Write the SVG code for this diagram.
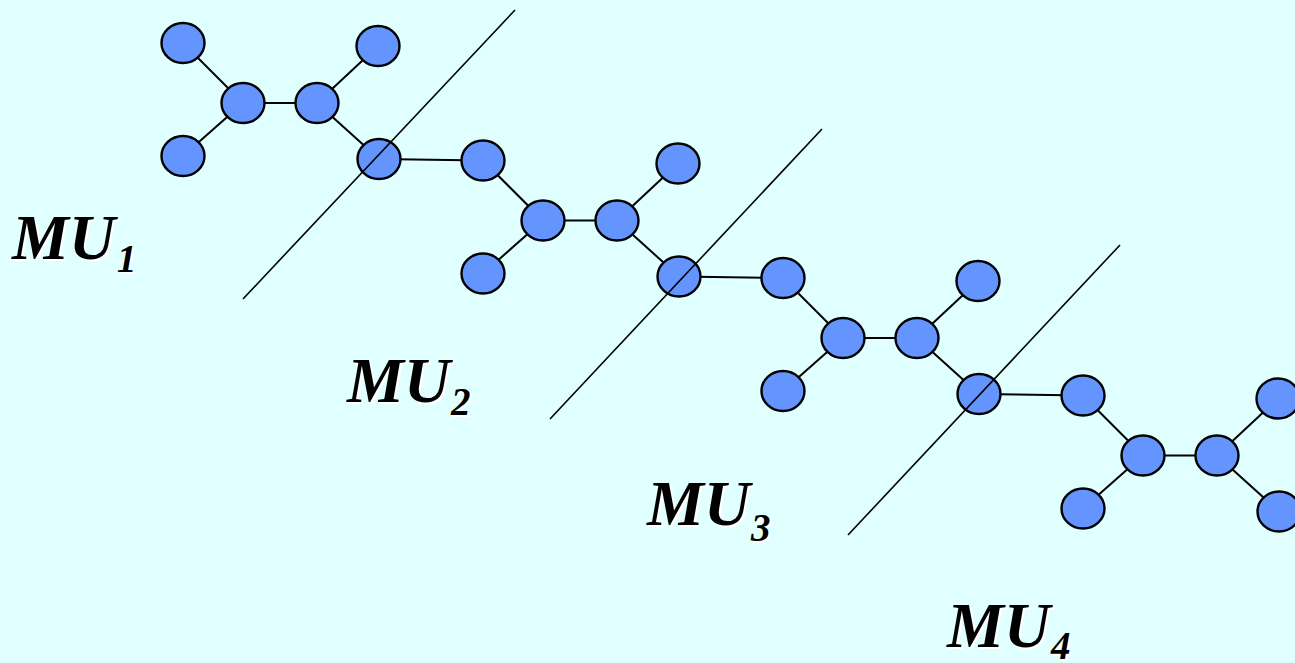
<svg xmlns="http://www.w3.org/2000/svg" width="1295" height="663" viewBox="0 0 1295 663">
<style>
.n{fill:#6495FF;stroke:#000;stroke-width:2.4}
.e line{stroke:#000;stroke-width:2}
.cut line{stroke:#000;stroke-width:1.6}
.lb{font-family:"Liberation Serif",serif;font-weight:bold;font-style:italic;fill:#000}
.sh{fill:#fff}
.m{font-size:64px}
.s{font-size:39px}
</style>
<rect width="1295" height="663" fill="#E0FFFF"/>
<g id="connectors" class="e">
<line x1="183" y1="43" x2="243" y2="103"/><line x1="183" y1="156" x2="243" y2="103"/><line x1="243" y1="103" x2="317" y2="103"/><line x1="317" y1="103" x2="378" y2="46"/><line x1="317" y1="103" x2="379" y2="159"/><line x1="379" y1="159" x2="483" y2="160.5"/>
<line x1="483" y1="160.5" x2="543" y2="220.5"/><line x1="483" y1="273.5" x2="543" y2="220.5"/><line x1="543" y1="220.5" x2="617" y2="220.5"/><line x1="617" y1="220.5" x2="678" y2="163.5"/><line x1="617" y1="220.5" x2="679" y2="276.5"/><line x1="679" y1="276.5" x2="783" y2="278"/>
<line x1="783" y1="278" x2="843" y2="338"/><line x1="783" y1="391" x2="843" y2="338"/><line x1="843" y1="338" x2="917" y2="338"/><line x1="917" y1="338" x2="978" y2="281"/><line x1="917" y1="338" x2="979" y2="394"/><line x1="979" y1="394" x2="1083" y2="395.5"/>
<line x1="1083" y1="395.5" x2="1143" y2="455.5"/><line x1="1083" y1="508.5" x2="1143" y2="455.5"/><line x1="1143" y1="455.5" x2="1217" y2="455.5"/><line x1="1217" y1="455.5" x2="1278" y2="398.5"/><line x1="1217" y1="455.5" x2="1279" y2="511.5"/>
</g>
<g id="n1a"><ellipse class="n" cx="183" cy="43" rx="21.5" ry="20"/></g>
<g id="n1b"><ellipse class="n" cx="183" cy="156" rx="21.5" ry="20"/></g>
<g id="n1c"><ellipse class="n" cx="243" cy="103" rx="21.5" ry="20"/></g>
<g id="n1d"><ellipse class="n" cx="317" cy="103" rx="21.5" ry="20"/></g>
<g id="n1e"><ellipse class="n" cx="378" cy="46" rx="21.5" ry="20"/></g>
<g id="n1f"><ellipse class="n" cx="379" cy="159" rx="21.5" ry="20"/></g>
<g id="n2a"><ellipse class="n" cx="483" cy="160.5" rx="21.5" ry="20"/></g>
<g id="n2b"><ellipse class="n" cx="483" cy="273.5" rx="21.5" ry="20"/></g>
<g id="n2c"><ellipse class="n" cx="543" cy="220.5" rx="21.5" ry="20"/></g>
<g id="n2d"><ellipse class="n" cx="617" cy="220.5" rx="21.5" ry="20"/></g>
<g id="n2e"><ellipse class="n" cx="678" cy="163.5" rx="21.5" ry="20"/></g>
<g id="n2f"><ellipse class="n" cx="679" cy="276.5" rx="21.5" ry="20"/></g>
<g id="n3a"><ellipse class="n" cx="783" cy="278" rx="21.5" ry="20"/></g>
<g id="n3b"><ellipse class="n" cx="783" cy="391" rx="21.5" ry="20"/></g>
<g id="n3c"><ellipse class="n" cx="843" cy="338" rx="21.5" ry="20"/></g>
<g id="n3d"><ellipse class="n" cx="917" cy="338" rx="21.5" ry="20"/></g>
<g id="n3e"><ellipse class="n" cx="978" cy="281" rx="21.5" ry="20"/></g>
<g id="n3f"><ellipse class="n" cx="979" cy="394" rx="21.5" ry="20"/></g>
<g id="n4a"><ellipse class="n" cx="1083" cy="395.5" rx="21.5" ry="20"/></g>
<g id="n4b"><ellipse class="n" cx="1083" cy="508.5" rx="21.5" ry="20"/></g>
<g id="n4c"><ellipse class="n" cx="1143" cy="455.5" rx="21.5" ry="20"/></g>
<g id="n4d"><ellipse class="n" cx="1217" cy="455.5" rx="21.5" ry="20"/></g>
<g id="n4e"><ellipse class="n" cx="1278" cy="398.5" rx="21.5" ry="20"/></g>
<g id="n4f"><ellipse class="n" cx="1279" cy="511.5" rx="21.5" ry="20"/></g>
<g id="cuts" class="cut">
<line x1="243" y1="299" x2="515" y2="10"/>
<line x1="550" y1="419" x2="822" y2="129"/>
<line x1="848" y1="535" x2="1120" y2="245"/>
</g>
<g id="label1" class="lb">
<text class="m sh" x="14" y="261">MU</text><text class="s sh" x="119" y="274">1</text>
<text class="m" x="12" y="259">MU</text><text class="s" x="117" y="272">1</text>
</g>
<g id="label2" class="lb">
<text class="m sh" x="349" y="404">MU</text><text class="s sh" x="453" y="417">2</text>
<text class="m" x="347" y="402">MU</text><text class="s" x="451" y="415">2</text>
</g>
<g id="label3" class="lb">
<text class="m sh" x="649" y="527">MU</text><text class="s sh" x="753" y="543">3</text>
<text class="m" x="647" y="525">MU</text><text class="s" x="751" y="541">3</text>
</g>
<g id="label4" class="lb">
<text class="m sh" x="949" y="649">MU</text><text class="s sh" x="1053" y="661">4</text>
<text class="m" x="947" y="647">MU</text><text class="s" x="1051" y="659">4</text>
</g>
</svg>
